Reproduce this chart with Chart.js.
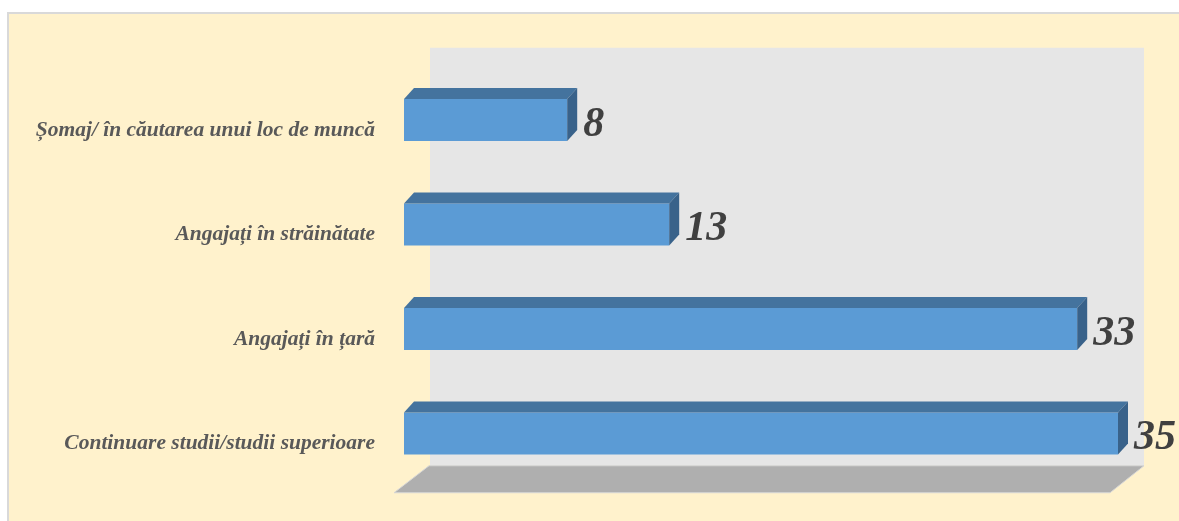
<!DOCTYPE html>
<html>
<head>
<meta charset="utf-8">
<script src="https://cdn.jsdelivr.net/npm/chart.js@4.4.1/dist/chart.umd.min.js"></script>
<style>
  html, body { margin:0; padding:0; background:#ffffff; width:1179px; height:521px; overflow:hidden; }
  #frame { position:absolute; left:7px; top:12px; width:1200px; height:600px; background:#FFF2CC;
           border-left:2px solid #d9d9d9; border-top:2px solid #d9d9d9; box-sizing:border-box; }
  #wrap { position:absolute; left:0; top:0; width:1179px; height:521px; }
</style>
</head>
<body>
<div id="frame"></div>
<div id="wrap"><canvas id="c" width="1179" height="521"></canvas></div>
<script>
const categories = [
  "Șomaj/ în căutarea unui loc de muncă",
  "Angajați în străinătate",
  "Angajați în țară",
  "Continuare studii/studii superioare"
];
const values = [8, 13, 33, 35];
const axisMax = 35;

const DEPTH_X = 10, DEPTH_Y = 11;

const scene3d = {
  id: 'scene3d',
  beforeDatasetsDraw(chart) {
    const ctx = chart.ctx, a = chart.chartArea, xs = chart.scales.x;
    const x0 = xs.getPixelForValue(0), x1 = xs.getPixelForValue(axisMax);
    ctx.save();
    ctx.fillStyle = '#E6E6E6';
    ctx.fillRect(x0 + 26, a.top - 20, (x1 + 26) - (x0 + 26), (a.bottom - 20) - (a.top - 20));
    ctx.beginPath();
    ctx.moveTo(x0 - 10, a.bottom + 7);
    ctx.lineTo(x1 - 8, a.bottom + 7);
    ctx.lineTo(x1 + 26, a.bottom - 20);
    ctx.lineTo(x0 + 25, a.bottom - 20);
    ctx.closePath();
    ctx.fillStyle = '#AFAFAF';
    ctx.fill();
    ctx.strokeStyle = '#d6d6d6';
    ctx.lineWidth = 1;
    ctx.stroke();
    ctx.restore();
  },
  afterDatasetsDraw(chart) {
    const ctx = chart.ctx;
    const meta = chart.getDatasetMeta(0);
    ctx.save();
    meta.data.forEach((bar, i) => {
      const p = bar.getProps(['x', 'y', 'base', 'height'], true);
      const top = p.y - p.height / 2, bot = p.y + p.height / 2;
      ctx.beginPath();
      ctx.moveTo(p.base, top);
      ctx.lineTo(p.x, top);
      ctx.lineTo(p.x + DEPTH_X, top - DEPTH_Y);
      ctx.lineTo(p.base + DEPTH_X, top - DEPTH_Y);
      ctx.closePath();
      ctx.fillStyle = '#44739E';
      ctx.fill();
      ctx.beginPath();
      ctx.moveTo(p.x, top);
      ctx.lineTo(p.x + DEPTH_X, top - DEPTH_Y);
      ctx.lineTo(p.x + DEPTH_X, bot - DEPTH_Y);
      ctx.lineTo(p.x, bot);
      ctx.closePath();
      ctx.fillStyle = '#39628A';
      ctx.fill();
      ctx.fillStyle = '#404040';
      ctx.font = 'italic bold 42px "Liberation Serif", serif';
      ctx.textAlign = 'left';
      ctx.textBaseline = 'alphabetic';
      ctx.fillText(String(values[i]), p.x + DEPTH_X + 6, p.y + 15.5);
    });
    ctx.restore();
  }
};

new Chart(document.getElementById('c'), {
  type: 'bar',
  data: {
    labels: categories,
    datasets: [{
      data: values,
      backgroundColor: '#5B9BD5',
      borderWidth: 0,
      categoryPercentage: 1,
      barPercentage: 0.402
    }]
  },
  options: {
    indexAxis: 'y',
    responsive: false,
    animation: false,
    layout: { padding: { left: 0, right: 61, top: 67.75, bottom: 35.25 } },
    plugins: { legend: { display: false }, tooltip: { enabled: false } },
    scales: {
      x: { display: false, min: 0, max: axisMax },
      y: {
        grid: { display: false, drawTicks: false, drawOnChartArea: false },
        border: { display: false },
        afterFit(scale) { scale.width = 404; scale.paddingTop = 0; scale.paddingBottom = 0; },
        ticks: {
          color: '#595959',
          padding: 29,
          labelOffset: 10,
          font: { family: '"Liberation Serif", serif', size: 21.5, style: 'italic', weight: 'bold' }
        }
      }
    }
  },
  plugins: [scene3d]
});
</script>
</body>
</html>
